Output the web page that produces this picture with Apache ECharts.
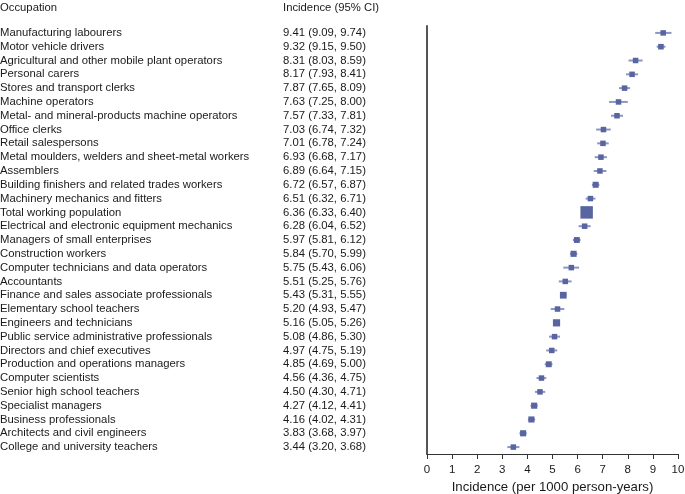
<!DOCTYPE html>
<html><head><meta charset="utf-8">
<script src="https://cdn.jsdelivr.net/npm/echarts@6/dist/echarts.min.js"></script>
<style>html,body{margin:0;padding:0;background:#fff}#c{width:685px;height:494px}</style>
</head><body><div id="c"></div>
<script>
const occupations = ["Manufacturing labourers","Motor vehicle drivers","Agricultural and other mobile plant operators","Personal carers","Stores and transport clerks","Machine operators","Metal- and mineral-products machine operators","Office clerks","Retail salespersons","Metal moulders, welders and sheet-metal workers","Assemblers","Building finishers and related trades workers","Machinery mechanics and fitters","Total working population","Electrical and electronic equipment mechanics","Managers of small enterprises","Construction workers","Computer technicians and data operators","Accountants","Finance and sales associate professionals","Elementary school teachers","Engineers and technicians","Public service administrative professionals","Directors and chief executives","Production and operations managers","Computer scientists","Senior high school teachers","Specialist managers","Business professionals","Architects and civil engineers","College and university teachers"];
const incidence = [9.41,9.32,8.31,8.17,7.87,7.63,7.57,7.03,7.01,6.93,6.89,6.72,6.51,6.36,6.28,5.97,5.84,5.75,5.51,5.43,5.20,5.16,5.08,4.97,4.85,4.56,4.50,4.27,4.16,3.83,3.44];
const lower = [9.09,9.15,8.03,7.93,7.65,7.25,7.33,6.74,6.78,6.68,6.64,6.57,6.32,6.33,6.04,5.81,5.70,5.43,5.25,5.31,4.93,5.05,4.86,4.75,4.69,4.36,4.30,4.12,4.02,3.68,3.20];
const upper = [9.74,9.50,8.59,8.41,8.09,8.00,7.81,7.32,7.24,7.17,7.15,6.87,6.71,6.40,6.52,6.12,5.99,6.06,5.76,5.55,5.47,5.26,5.30,5.19,5.00,4.75,4.71,4.41,4.31,3.97,3.68];
const xTicks = [0,1,2,3,4,5,6,7,8,9,10];
</script>
<script>
const chart = echarts.init(document.getElementById('c'));
const FONT = '"Liberation Sans", Arial, Helvetica, sans-serif';
const ciText = incidence.map((v,i)=>v.toFixed(2)+' ('+lower[i].toFixed(2)+', '+upper[i].toFixed(2)+')');
const sizeFor = i => Math.max(5.5, 3.3*Math.sqrt(1/(upper[i]-lower[i])));
chart.setOption({
  animation:false,
  textStyle:{fontFamily:FONT},
  graphic:[
    {type:'text',left:0,top:2,style:{text:'Occupation',font:'11.3px '+FONT,fill:'#1a1a1a'}},
    {type:'text',left:283,top:2,style:{text:'Incidence (95% CI)',font:'11.3px '+FONT,fill:'#1a1a1a'}}
  ],
  grid:{left:427,right:7,top:26,bottom:40,containLabel:false,outerBoundsMode:'none'},
  xAxis:{type:'value',min:xTicks[0],max:xTicks[xTicks.length-1],interval:1,
    axisLine:{show:true,lineStyle:{color:'#333',width:1.2}},
    axisTick:{show:true,length:5,lineStyle:{color:'#333'}},
    axisLabel:{fontSize:11.5,color:'#1a1a1a',margin:10,fontFamily:FONT},
    splitLine:{show:false},
    name:'Incidence (per 1000 person-years)',nameLocation:'middle',nameGap:23,
    nameTextStyle:{fontSize:13.2,color:'#1a1a1a',fontFamily:FONT}},
  yAxis:[
    {type:'category',data:occupations,inverse:true,position:'left',
      axisLine:{show:true,lineStyle:{color:'#555',width:2}},axisTick:{show:false},
      axisLabel:{interval:0,align:'left',margin:427,fontSize:11.3,color:'#1a1a1a',fontFamily:FONT}},
    {type:'category',data:ciText,inverse:true,position:'left',
      axisLine:{show:false},axisTick:{show:false},
      axisLabel:{interval:0,align:'left',margin:144,fontSize:11.3,color:'#1a1a1a',fontFamily:FONT}}
  ],
  series:[
    {type:'custom',yAxisIndex:0,
      data:occupations.map((o,i)=>[lower[i],upper[i],i]),
      renderItem:(params,api)=>{
        const a=api.coord([api.value(0),api.value(2)]);
        const b=api.coord([api.value(1),api.value(2)]);
        return {type:'line',shape:{x1:a[0],y1:a[1],x2:b[0],y2:b[1]},style:{stroke:'#8c95c4',lineWidth:2}};
      },z:1},
    {type:'scatter',yAxisIndex:0,symbol:'rect',
      data:incidence.map((v,i)=>({value:[v,i],symbolSize:sizeFor(i)})),
      itemStyle:{color:'#5865a1',opacity:1},z:2}
  ]
});
</script></body></html>
